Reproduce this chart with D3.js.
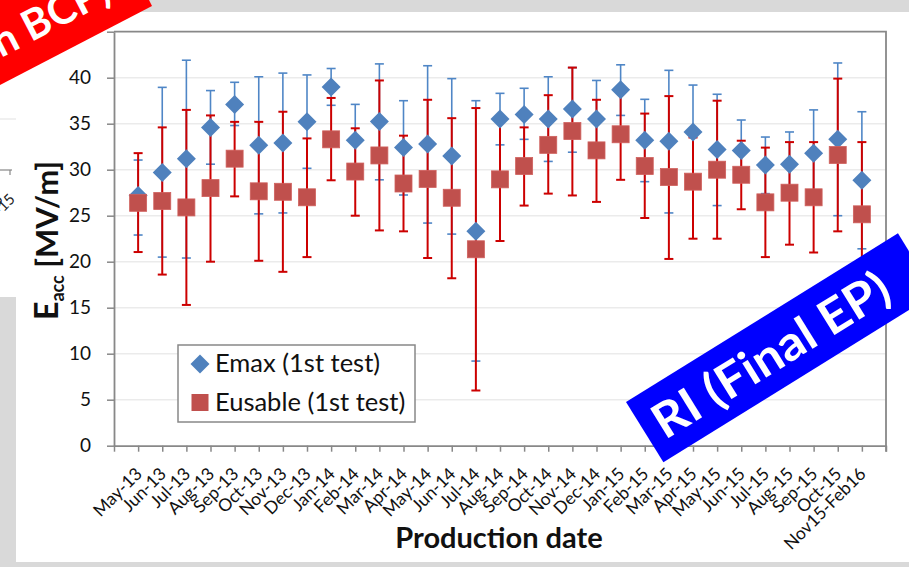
<!DOCTYPE html>
<html>
<head>
<meta charset="utf-8">
<script src="https://cdn.jsdelivr.net/npm/d3@7"></script>
<style>
  body { margin: 0; background: #fff; }
  svg { display: block; font-family: Lato, "Open Sans", sans-serif; }
</style>
</head>
<body>
<svg id="chart" width="909" height="567"></svg>
<script>

// Production months (x categories)
var categories = ["May-13", "Jun-13", "Jul-13", "Aug-13", "Sep-13", "Oct-13", "Nov-13", "Dec-13",
    "Jan-14", "Feb-14", "Mar-14", "Apr-14", "May-14", "Jun-14", "Jul-14", "Aug-14", "Sep-14",
    "Oct-14", "Nov-14", "Dec-14", "Jan-15", "Feb-15", "Mar-15", "Apr-15", "May-15", "Jun-15",
    "Jul-15", "Aug-15", "Sep-15", "Oct-15", "Nov15-Feb16"];

// Emax (1st test): mean, upper and lower ends of the error bar [MV/m]
var emax = [27.2, 29.7, 31.2, 34.6, 37.1, 32.65, 32.9, 35.2, 39.0, 33.2, 35.25, 32.4, 32.8, 31.5, 23.3,
    35.5, 36.0, 35.5, 36.6, 35.5, 38.7, 33.2, 33.1, 34.1, 32.2, 32.1, 30.5, 30.6, 31.8, 33.3, 28.85];
var emaxHi = [31.05, 38.95, 41.9, 38.6, 39.5, 40.1, 40.5, 40.3, 41.0, 37.1, 41.5, 37.5, 41.3, 39.9, 37.5,
    38.3, 38.85, 40.1, 41.1, 39.7, 41.4, 37.65, 40.8, 39.2, 38.2, 35.4, 33.55, 34.1, 36.5, 41.6, 36.3];
var emaxLo = [22.9, 20.5, 20.4, 30.6, 34.8, 25.2, 25.3, 30.15, 37.0, 30.5, 28.9, 27.25, 24.2, 23.0, 9.2,
    32.7, 33.3, 30.9, 31.9, 32.2, 35.9, 28.7, 25.3, 28.5, 26.1, 29.0, 27.4, 27.5, 27.0, 25.0, 21.4];

// Eusable (1st test)
var eusable = [26.4, 26.6, 25.9, 28.0, 31.2, 27.65, 27.6, 27.0, 33.3, 29.8, 31.55, 28.5, 29.0, 26.95, 21.35,
    28.95, 30.4, 32.7, 34.2, 32.1, 33.85, 30.4, 29.2, 28.7, 30.0, 29.45, 26.45, 27.5, 27.0, 31.6, 25.15];
var eusableHi = [31.8, 34.6, 36.5, 35.9, 35.2, 35.2, 36.3, 33.4, 37.8, 34.5, 39.7, 33.7, 37.6, 35.6, 36.7,
    35.3, 34.6, 38.1, 41.1, 37.6, 38.5, 36.1, 38.0, 33.5, 37.5, 33.15, 32.4, 33.0, 33.0, 39.9, 33.0];
var eusableLo = [21.05, 18.6, 15.3, 20.0, 27.1, 20.1, 18.9, 20.5, 28.85, 25.0, 23.4, 23.3, 20.4, 18.2, 6.0,
    22.25, 26.1, 27.4, 27.2, 26.5, 28.9, 24.75, 20.3, 22.5, 22.5, 25.7, 20.5, 21.85, 21.0, 23.3, 17.5];

var yTicks = [0, 5, 10, 15, 20, 25, 30, 35, 40, 45];

var svg = d3.select("#chart");

// Slide background: gray strips around the white chart area
svg.append("rect").attr("width", 909).attr("height", 567).attr("fill", "#ffffff");
svg.append("rect").attr("x", 0).attr("y", 0).attr("width", 909).attr("height", 12).attr("fill", "#d9d9d9");
svg.append("rect").attr("x", 0).attr("y", 562).attr("width", 909).attr("height", 5).attr("fill", "#d9d9d9");
svg.append("rect").attr("x", 0).attr("y", 297).attr("width", 16).attr("height", 265).attr("fill", "#d9d9d9");

// Edge of the neighbouring chart on the left
var sliver = svg.append("g");
sliver.append("line").attr("x1", 0).attr("x2", 16).attr("y1", 119).attr("y2", 119)
    .attr("stroke", "#ebebeb").attr("stroke-width", 1.5);
sliver.append("line").attr("x1", 0).attr("x2", 12).attr("y1", 170).attr("y2", 170)
    .attr("stroke", "#888").attr("stroke-width", 1.2);
sliver.append("line").attr("x1", 10).attr("x2", 10).attr("y1", 170).attr("y2", 175)
    .attr("stroke", "#888").attr("stroke-width", 1.2);
svg.append("clipPath").attr("id", "sliverClip")
    .append("rect").attr("x", 0).attr("y", 12).attr("width", 16).attr("height", 285);
var sliverText = sliver.append("g").attr("clip-path", "url(#sliverClip)");
[["Jul-15", 16], ["Aug-15", 4]].forEach(function(d) {
    sliverText.append("text")
        .attr("transform", "translate(" + d[1] + ",200) rotate(-45)")
        .attr("text-anchor", "end")
        .attr("font-size", 15)
        .attr("fill", "#222")
        .text(d[0]);
});

// Scales
var margin = { left: 114, right: 886, top: 31.7, bottom: 445.7 };
var x = d3.scaleLinear().domain([0, categories.length + 1]).range([margin.left, margin.right]);
var y = d3.scaleLinear().domain([0, 45]).range([margin.bottom, margin.top]);

// Horizontal gridlines
svg.append("g")
    .selectAll("line")
    .data(yTicks.slice(1, -1))
    .join("line")
    .attr("x1", margin.left).attr("x2", margin.right)
    .attr("y1", d => y(d)).attr("y2", d => y(d))
    .attr("stroke", "#ebebeb")
    .attr("stroke-width", 1.5);

// Y axis
var yAxis = svg.append("g")
    .attr("transform", "translate(" + margin.left + ",0)")
    .call(d3.axisLeft(y).tickValues(yTicks).tickSize(7).tickPadding(16).tickSizeOuter(0));
yAxis.select(".domain").attr("stroke", "#888").attr("stroke-width", 1.8);
yAxis.selectAll(".tick line").attr("stroke", "#888").attr("stroke-width", 1.5);
yAxis.selectAll(".tick text").attr("font-size", 19).attr("fill", "#111").attr("font-family", "Lato");

// X axis: ticks at every category position, labels rotated
var xTickVals = d3.range(0, categories.length + 2);
var xAxis = svg.append("g")
    .attr("transform", "translate(0," + margin.bottom + ")")
    .call(d3.axisBottom(x).tickValues(xTickVals).tickSize(6).tickFormat("").tickSizeOuter(0));
xAxis.select(".domain").attr("stroke", "#888").attr("stroke-width", 1.8);
xAxis.selectAll(".tick line").attr("stroke", "#888").attr("stroke-width", 1.5);

svg.append("g")
    .selectAll("text")
    .data(categories)
    .join("text")
    .attr("transform", (d, i) => "translate(" + (x(i + 1) + 5) + ",475) rotate(-45)")
    .attr("text-anchor", "end")
    .attr("font-size", 17.5)
    .attr("fill", "#111")
    .text(d => d);

// Top and right border of plot area
svg.append("path")
    .attr("d", "M" + margin.left + "," + margin.top + "H" + margin.right + "V" + (margin.bottom + 6))
    .attr("fill", "none")
    .attr("stroke", "#888")
    .attr("stroke-width", 1.8);

// Error bars
function drawErrorBars(hi, lo, color, width) {
    var g = svg.append("g").attr("stroke", color).attr("stroke-width", width);
    categories.forEach(function(c, i) {
        var cx = x(i + 1);
        g.append("line").attr("x1", cx).attr("x2", cx).attr("y1", y(hi[i])).attr("y2", y(lo[i]));
        g.append("line").attr("x1", cx - 4.5).attr("x2", cx + 4.5).attr("y1", y(hi[i])).attr("y2", y(hi[i]));
        g.append("line").attr("x1", cx - 4.5).attr("x2", cx + 4.5).attr("y1", y(lo[i])).attr("y2", y(lo[i]));
    });
}
drawErrorBars(emaxHi, emaxLo, "#4f86c6", 1.6);
drawErrorBars(eusableHi, eusableLo, "#cc0000", 2);

// Markers
var diamond = "M0,-9.5L9.5,0L0,9.5L-9.5,0Z";
svg.append("g")
    .selectAll("path")
    .data(emax)
    .join("path")
    .attr("d", diamond)
    .attr("transform", (d, i) => "translate(" + x(i + 1) + "," + y(d) + ")")
    .attr("fill", "#4f81bd");

svg.append("g")
    .selectAll("rect")
    .data(eusable)
    .join("rect")
    .attr("x", (d, i) => x(i + 1) - 8.5)
    .attr("y", d => y(d) - 8.5)
    .attr("width", 17)
    .attr("height", 17)
    .attr("fill", "#c0504d")
    .attr("stroke", "#d0605d")
    .attr("stroke-width", 0.8);

// Legend
var legend = svg.append("g");
legend.append("rect")
    .attr("x", 178).attr("y", 345).attr("width", 237).attr("height", 77)
    .attr("fill", "#fff").attr("stroke", "#888").attr("stroke-width", 1.5);
legend.append("path").attr("d", diamond).attr("transform", "translate(200,364)").attr("fill", "#4f81bd");
legend.append("rect").attr("x", 191.5).attr("y", 394).attr("width", 17).attr("height", 17).attr("fill", "#c0504d");
legend.append("text").attr("x", 215).attr("y", 372).attr("font-size", 25.5).attr("fill", "#111").text("Emax (1st test)");
legend.append("text").attr("x", 215).attr("y", 411).attr("font-size", 25.5).attr("fill", "#111").text("Eusable (1st test)");

// Axis titles
svg.append("text")
    .attr("x", 499).attr("y", 548)
    .attr("text-anchor", "middle")
    .attr("font-size", 29)
    .attr("font-weight", "bold")
    .attr("fill", "#111")
    .text("Production date");

var yTitle = svg.append("text")
    .attr("transform", "translate(58,320) rotate(-90)")
    .attr("font-weight", "bold")
    .attr("fill", "#111");
yTitle.append("tspan").attr("font-size", 32).text("E");
yTitle.append("tspan").attr("font-size", 18).attr("dy", 6).text("acc");
yTitle.append("tspan").attr("font-size", 31).attr("dy", -6).text(" [MV/m]");

// Red banner in the top-left corner
var redBanner = svg.append("g");
redBanner.append("polygon").attr("points", "0,0 149,0 152,6 0,85").attr("fill", "#ff0000");
redBanner.append("text")
    .attr("transform", "translate(1,58) rotate(-27.5)")
    .attr("font-size", 42)
    .attr("font-weight", "bold")
    .attr("fill", "#fff")
    .text("n BCP)");

// Blue banner in the bottom-right corner
var blueBanner = svg.append("g").attr("transform", "translate(626,402) rotate(-31.8)");
blueBanner.append("rect").attr("x", 0).attr("y", 0).attr("width", 320).attr("height", 71).attr("fill", "#0000ff");
blueBanner.append("text")
    .attr("x", 13).attr("y", 53)
    .attr("font-size", 48)
    .attr("font-weight", "bold")
    .attr("fill", "#fff")
    .attr("textLength", 270)
    .attr("lengthAdjust", "spacingAndGlyphs")
    .text("RI (Final EP)");

</script>
</body>
</html>
